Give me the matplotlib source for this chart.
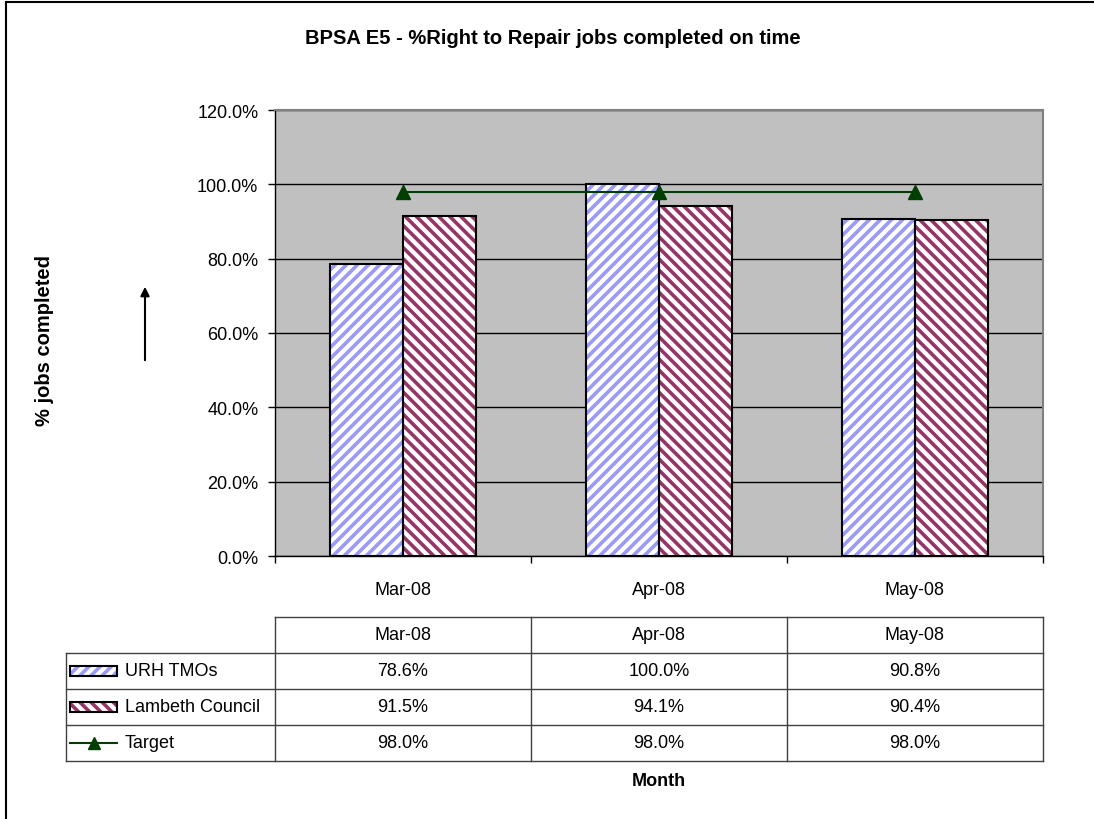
import numpy as np
import matplotlib
matplotlib.use("Agg")
import matplotlib.pyplot as plt
from matplotlib.patches import Rectangle
from matplotlib.lines import Line2D

# --- data ---
months = ['Mar-08', 'Apr-08', 'May-08']
urh_tmos = [78.6, 100.0, 90.8]
lambeth = [91.5, 94.1, 90.4]
target = [98.0, 98.0, 98.0]
series_names = ['URH TMOs', 'Lambeth Council', 'Target']
y_ticks = [0, 20, 40, 60, 80, 100, 120]

# --- styles ---
urh_col = '#9999ff'
lam_col = '#993366'
tgt_col = '#003f00'
plt.rcParams['font.family'] = ['Liberation Sans', 'DejaVu Sans']
plt.rcParams['hatch.linewidth'] = 2.6

W, H = 1094, 820
fig = plt.figure(figsize=(W / 100, H / 100), dpi=100)


def px_box(x0, y0, x1, y1):
    # pixel box (top-left origin) -> figure fraction rect
    return [x0 / W, 1 - y1 / H, (x1 - x0) / W, (y1 - y0) / H]


# outer chart border (left and top visible)
fig.add_artist(Line2D([6 / W, 6 / W], [0, 1 - 3 / H], color='black', lw=1.5))
fig.add_artist(Line2D([6 / W, 1], [1 - 3 / H, 1 - 3 / H], color='black', lw=1.5))

# --- main plot ---
ax = fig.add_axes(px_box(275, 111, 1043, 557))
ax.set_facecolor('#c0c0c0')
x = np.arange(len(months))
bw = 0.285

ax.bar(x - bw / 2, urh_tmos, bw, facecolor='white', edgecolor=urh_col, hatch='///', linewidth=0, zorder=2)
ax.bar(x - bw / 2, urh_tmos, bw, fill=False, edgecolor='black', linewidth=1.5, zorder=3)
ax.bar(x + bw / 2, lambeth, bw, facecolor='white', edgecolor=lam_col, hatch='\\\\\\', linewidth=0, zorder=2)
ax.bar(x + bw / 2, lambeth, bw, fill=False, edgecolor='black', linewidth=1.5, zorder=3)
ax.plot(x, target, color=tgt_col, marker='^', markersize=10, lw=1.5, zorder=4)

ax.set_xlim(-0.5, 2.5)
ax.set_ylim(0, 120)
ax.set_yticks(y_ticks)
ax.set_yticklabels([f'{v:.1f}%' for v in y_ticks])
ax.yaxis.grid(True, color='black', lw=1)
ax.set_axisbelow(True)
ax.tick_params(axis='y', direction='out', length=5, width=1, pad=7, labelsize=13)

ax.set_xticks([-0.5, 0.5, 1.5, 2.5])
ax.set_xticklabels([])
ax.tick_params(axis='x', which='major', direction='out', length=5, width=1)
ax.set_xticks(x, minor=True)
ax.set_xticklabels(months, minor=True)
ax.tick_params(axis='x', which='minor', length=0, pad=18, labelsize=13)

for side in ['top', 'right']:
    ax.spines[side].set_color('#808080')
    ax.spines[side].set_linewidth(1.5)
for side in ['left', 'bottom']:
    ax.spines[side].set_color('black')
    ax.spines[side].set_linewidth(1)

fig.text(553 / W, 1 - 38 / H, 'BPSA E5 - %Right to Repair jobs completed on time',
         ha='center', va='center', fontsize=14.5, fontweight='bold')
fig.text(45 / W, 1 - 341 / H, '% jobs completed', rotation=90,
         ha='center', va='center', fontsize=14.5, fontweight='bold')
fig.text(659 / W, 1 - 782 / H, 'Month', ha='center', va='center',
         fontsize=13, fontweight='bold')
ax.annotate('', xy=(145 / W, 1 - 285 / H), xytext=(145 / W, 1 - 364 / H),
            xycoords='figure fraction', textcoords='figure fraction',
            arrowprops=dict(arrowstyle='-|>', color='black', lw=1.5, mutation_scale=13))

# --- data table under the plot ---
tax = fig.add_axes(px_box(66, 618, 1043, 762))
xl = -0.5 - (275 - 66) / 256
tax.set_xlim(xl, 2.5)
tax.set_ylim(0, 4)
tax.axis('off')

lc = '#404040'
tax.plot([-0.5, 2.5], [4, 4], color=lc, lw=1, clip_on=False)
for yy in [3, 2, 1, 0]:
    tax.plot([xl, 2.5], [yy, yy], color=lc, lw=1, clip_on=False)
tax.plot([xl, xl], [0, 3], color=lc, lw=1, clip_on=False)
for xx in [-0.5, 0.5, 1.5, 2.5]:
    tax.plot([xx, xx], [0, 4], color=lc, lw=1, clip_on=False)

for i, m in enumerate(months):
    tax.text(i, 3.5, m, ha='center', va='center', fontsize=13)

for r, vals in enumerate([urh_tmos, lambeth, target]):
    yc = 2.5 - r
    for i, v in enumerate(vals):
        tax.text(i, yc, f'{v:.1f}%', ha='center', va='center', fontsize=13)
    tax.text(xl + 0.23, yc, series_names[r], ha='left', va='center', fontsize=13)

# legend keys in the row labels
kx0, kw, kh = xl + 0.016, 0.184, 0.3
for r, (col, h) in enumerate([(urh_col, '///'), (lam_col, '\\\\\\')]):
    yc = 2.5 - r
    tax.add_patch(Rectangle((kx0, yc - kh / 2), kw, kh, facecolor='white',
                            edgecolor=col, hatch=h, linewidth=0))
    tax.add_patch(Rectangle((kx0, yc - kh / 2), kw, kh, fill=False,
                            edgecolor='black', linewidth=1.5))
tax.plot([kx0, kx0 + kw / 2, kx0 + kw], [0.5, 0.5, 0.5], color=tgt_col, lw=1.5,
         marker='^', markersize=9, markevery=[1])

fig.savefig('out.png', dpi=100)
